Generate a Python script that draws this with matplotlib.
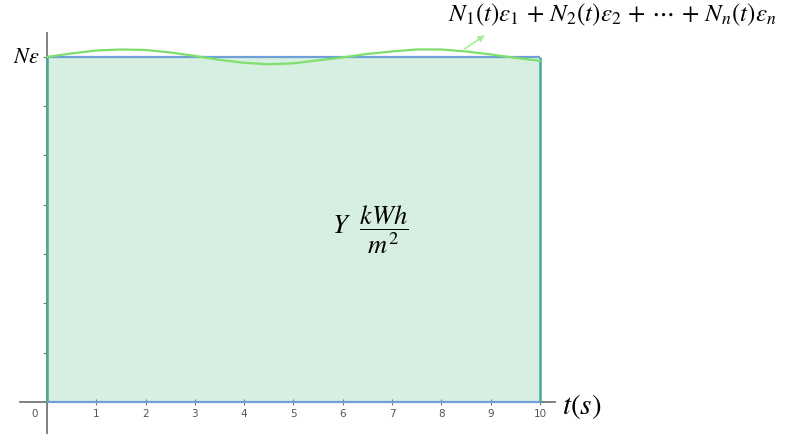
import matplotlib
matplotlib.use("Agg")
import matplotlib.pyplot as plt
import matplotlib.transforms as mtransforms
import numpy as np

plt.rcParams['mathtext.fontset'] = 'stix'

# data
t_start, t_end = 0, 10
n_eps_level = 7
x_ticks = list(range(0, 11))
y_ticks = list(range(1, 8))
curve_t = [0, 0.5, 1.0, 1.5, 2.0, 2.5, 3.0, 3.5, 4.0, 4.5, 5.0,
           5.5, 6.0, 6.5, 7.0, 7.5, 8.0, 8.5, 9.0, 9.5, 10.0]
curve_v = [7.0, 7.07, 7.13, 7.15, 7.14, 7.09, 7.02, 6.94, 6.88, 6.85, 6.87,
           6.93, 6.99, 7.06, 7.11, 7.15, 7.15, 7.11, 7.05, 6.98, 6.92]

fig = plt.figure(figsize=(7.87, 4.34), dpi=100)
ax = fig.add_axes([0, 0, 1, 1])
ax.set_xlim(-0.953, 15.01)
ax.set_ylim(-0.649, 8.154)

# filled area
ax.fill_between([t_start, t_end], 0, n_eps_level, color='#d6efe1', lw=0, zorder=1)
ax.hlines([n_eps_level], t_start, t_end, color='#6e9fd6', lw=1.6, zorder=3)
ax.hlines([0], t_start, t_end, color='#6e9fd6', lw=1.6, zorder=4)
ax.vlines([t_start, t_end], 0, n_eps_level, color='#4aa996', lw=1.8, zorder=3)

# wavy curve
ax.plot(curve_t, curve_v, color='#7ee06c', lw=1.6, zorder=5, solid_capstyle='round')

# spines as axes
for s in ['top', 'right']:
    ax.spines[s].set_visible(False)
ax.spines['left'].set_position(('data', 0))
ax.spines['bottom'].set_position(('data', 0))
ax.spines['left'].set_bounds(-0.65, 7.48)
ax.spines['bottom'].set_bounds(-0.55, 10.3)
for s in ['left', 'bottom']:
    ax.spines[s].set_color('#777777')
    ax.spines[s].set_linewidth(1.3)
    ax.spines[s].set_zorder(2)

ax.set_xticks(x_ticks)
ax.set_xticklabels([str(v) for v in x_ticks])
ax.set_yticks(y_ticks)
ax.set_yticklabels([])
ax.tick_params(axis='x', direction='inout', length=4, width=0.8, color='#777777',
               labelsize=7.5, labelcolor='#555555', pad=3)
ax.tick_params(axis='y', direction='out', length=3, width=0.8, color='#777777')
lbl0 = ax.get_xticklabels()[0]
lbl0.set_transform(lbl0.get_transform() + mtransforms.ScaledTranslation(-0.12, 0, fig.dpi_scale_trans))

# labels
ax.text(-0.14, n_eps_level, r'$N\varepsilon$', fontsize=16, ha='right', va='center')
ax.text(10.45, -0.1, r'$t(s)$', fontsize=21, ha='left', va='center')
ax.text(6.55, 3.49, r'$Y\ \ \dfrac{kWh}{m^2}$', fontsize=19, ha='center', va='center')
ax.annotate(r'$N_1(t)\varepsilon_1\,+\,N_2(t)\varepsilon_2\,+\,\cdots\,+\,N_n(t)\varepsilon_n$',
            xy=(8.92, 7.48), xytext=(8.13, 7.85), fontsize=18, ha='left', va='center',
            annotation_clip=False)
ax.annotate('', xy=(8.93, 7.47), xytext=(8.42, 7.13),
            arrowprops=dict(arrowstyle='-|>', color='#a5ee98', lw=1.2, mutation_scale=9))

fig.savefig('out.png', dpi=100)
